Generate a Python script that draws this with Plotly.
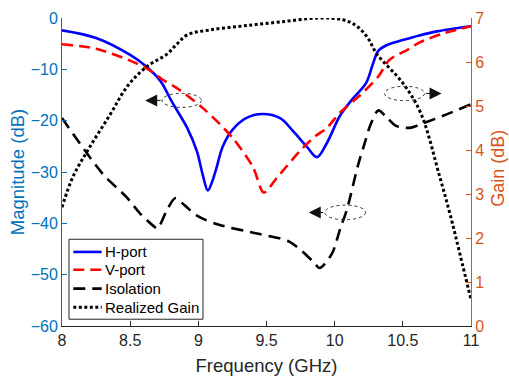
import plotly.graph_objects as go

# ---------------- data ----------------
freq_h = [8.0, 8.25, 8.5, 8.62, 8.72, 8.81, 8.92, 8.99, 9.03, 9.07, 9.1, 9.13, 9.18, 9.25,
          9.35, 9.47, 9.6, 9.7, 9.8, 9.87, 9.94, 10.04, 10.13, 10.23, 10.28, 10.32, 10.38,
          10.5, 10.62, 10.75, 11.0]
h_port = [-2.4, -3.9, -7.2, -9.5, -12.2, -16.5, -21.5, -26.0, -30.3, -33.6, -32.0, -29.5,
          -25.0, -21.8, -19.5, -18.7, -19.5, -22.2, -25.2, -27.1, -24.5, -19.0, -15.8,
          -12.7, -9.0, -6.4, -5.3, -4.3, -3.4, -2.6, -1.6]

freq_v = [8.0, 8.25, 8.5, 8.62, 8.75, 8.84, 9.04, 9.25, 9.4, 9.48, 9.58, 9.77, 9.87,
          9.94, 10.04, 10.18, 10.32, 10.4, 10.54, 10.62, 10.8, 11.0]
v_port = [-5.1, -6.0, -8.3, -9.8, -12.2, -13.6, -17.7, -23.3, -29.0, -34.0, -31.0,
          -25.2, -22.8, -21.5, -18.4, -15.2, -11.4, -8.2, -6.1, -4.8, -3.0, -1.6]

freq_iso = [8.0, 8.3, 8.47, 8.57, 8.67, 8.7, 8.77, 8.83, 8.9, 8.99, 9.14, 9.45, 9.67,
            9.84, 9.89, 9.98, 10.04, 10.09, 10.17, 10.22, 10.26, 10.32, 10.38, 10.45,
            10.55, 10.65, 10.8, 11.0]
isolation = [-19.5, -30.4, -34.8, -38.0, -40.5, -41.0, -37.4, -35.1, -36.5, -38.5,
             -40.2, -42.1, -43.6, -47.4, -48.7, -45.9, -41.1, -37.3, -28.8, -24.4,
             -21.0, -18.0, -19.3, -21.0, -21.4, -20.5, -19.0, -16.8]

freq_g = [8.0, 8.08, 8.2, 8.35, 8.48, 8.62, 8.77, 8.84, 8.92, 9.09, 9.33, 9.6, 9.89,
          10.06, 10.16, 10.24, 10.31, 10.5, 10.63, 10.77, 10.85, 10.92, 11.0]
gain = [2.7, 3.39, 4.05, 4.79, 5.45, 5.89, 6.18, 6.4, 6.62, 6.73, 6.82, 6.91, 7.0,
        6.96, 6.82, 6.56, 6.18, 5.52, 4.85, 3.4, 2.5, 1.62, 0.6]

series_names = ["H-port", "V-port", "Isolation", "Realized Gain"]

x_ticks = [8, 8.5, 9, 9.5, 10, 10.5, 11]
x_tick_text = ["8", "8.5", "9", "9.5", "10", "10.5", "11"]
mag_ticks = [-60, -50, -40, -30, -20, -10, 0]
gain_ticks = [0, 1, 2, 3, 4, 5, 6, 7]

# ellipse annotations (x0, x1, y0, y1) and arrows (tip x, tail x, y) in left-axis units
ellipses = [(8.734, 9.022, -14.68, -17.41), (10.366, 10.659, -13.3, -16.1),
            (9.927, 10.227, -36.45, -39.3)]
arrows = [(8.61, 8.734, -16.05), (10.784, 10.659, -14.7), (9.81, 9.927, -37.9)]

BLUE = "#0072BD"
ORANGE = "#D95319"
DARK = "#262626"
FONT = "Liberation Sans, Arial, sans-serif"

styles = [
    dict(color="#0000FF", width=2.6),
    dict(color="#FF0000", width=2.6, dash="11px,6px"),
    dict(color="#000000", width=2.6, dash="12px,7px"),
    dict(color="#000000", width=3, dash="3px,2.5px"),
]

fig = go.Figure()
fig.add_trace(go.Scatter(x=freq_h, y=h_port, name=series_names[0], mode="lines",
                         line=dict(**styles[0], shape="spline", smoothing=1.0)))
fig.add_trace(go.Scatter(x=freq_v, y=v_port, name=series_names[1], mode="lines",
                         line=dict(**styles[1], shape="spline", smoothing=0.8)))
fig.add_trace(go.Scatter(x=freq_iso, y=isolation, name=series_names[2], mode="lines",
                         line=dict(**styles[2], shape="spline", smoothing=0.8)))
fig.add_trace(go.Scatter(x=freq_g, y=gain, name=series_names[3], mode="lines", yaxis="y2",
                         line=dict(**styles[3], shape="spline", smoothing=1.0)))

for (x0, x1, y0, y1) in ellipses:
    fig.add_shape(type="circle", xref="x", yref="y", x0=x0, x1=x1, y0=y0, y1=y1,
                  line=dict(color="#333333", width=1, dash="dot"))
for (tip, tail, yy) in arrows:
    fig.add_annotation(x=tip, y=yy, ax=tail, ay=yy, xref="x", yref="y", axref="x", ayref="y",
                       text="", showarrow=True, arrowhead=2, arrowsize=2.4, arrowwidth=1,
                       arrowcolor="#111111")

# legend box (drawn manually to match the compact MATLAB legend)
fig.add_shape(type="rect", xref="paper", yref="paper", x0=0.0171, x1=0.3447, y0=0.022, y1=0.2816,
              line=dict(color=DARK, width=1), fillcolor="white", layer="above")
row_y = [0.2405, 0.1826, 0.1212, 0.0611]
for name, st, ry in zip(series_names, styles, row_y):
    fig.add_shape(type="line", xref="paper", yref="paper", x0=0.0276, x1=0.0970, y0=ry, y1=ry,
                  line=st, layer="above")
    fig.add_annotation(x=0.1, y=ry, xref="paper", yref="paper", text=name, showarrow=False,
                       xanchor="left", yanchor="middle", font=dict(size=15, color="#000000"))

# right axis title placed explicitly
fig.add_annotation(x=1.066, y=0.514, xref="paper", yref="paper", text="Gain (dB)",
                   showarrow=False, textangle=-90, xanchor="center", yanchor="middle",
                   font=dict(size=18, color=ORANGE))

fig.update_layout(
    width=509, height=384,
    margin=dict(l=62, r=38, t=10, b=58),
    paper_bgcolor="white", plot_bgcolor="white",
    font=dict(family=FONT, size=16, color=DARK),
    showlegend=False,
    xaxis=dict(range=[8, 11], tickvals=x_ticks, ticktext=x_tick_text,
               ticks="inside", ticklen=5, tickcolor=DARK, showline=True,
               linecolor=DARK, linewidth=1, showgrid=False, zeroline=False,
               tickfont=dict(size=16, color=DARK),
               title=dict(text="Frequency (GHz)", font=dict(size=18.5, color=DARK), standoff=10)),
    yaxis=dict(range=[-60, 0], tickvals=mag_ticks, ticks="inside", ticklen=5,
               tickcolor=BLUE, showline=True, linecolor=BLUE, linewidth=1,
               showgrid=False, zeroline=False, tickfont=dict(size=16, color=BLUE),
               title=dict(text="Magnitude (dB)", font=dict(size=18.5, color=BLUE), standoff=1)),
    yaxis2=dict(range=[0, 7], tickvals=gain_ticks, overlaying="y", side="right",
                ticks="inside", ticklen=5, tickcolor=ORANGE, showline=True,
                linecolor=ORANGE, linewidth=1, showgrid=False, zeroline=False,
                tickfont=dict(size=16, color=ORANGE)),
)

fig.write_html("out.html", config={"displayModeBar": False},
               post_script="document.body.style.margin='0';document.body.style.padding='0';")
